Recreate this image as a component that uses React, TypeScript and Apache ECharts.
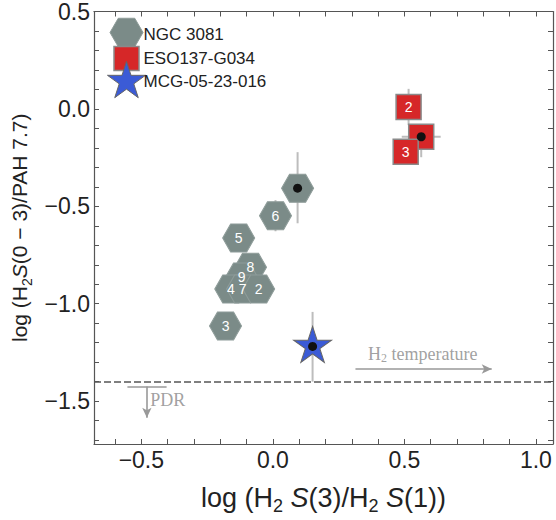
import React, { useEffect, useRef } from "react";
import * as echarts from "echarts";

// ---------- data ----------
const ngcX = [0.094, 0.01, -0.13, -0.085, -0.119, -0.16, -0.115, -0.054, -0.18];
const ngcY = [-0.407, -0.548, -0.663, -0.813, -0.863, -0.924, -0.924, -0.924, -1.114];
const ngcLabels = ["", "6", "5", "8", "9", "4", "7", "2", "3"];

const esoX = [0.564, 0.516, 0.505];
const esoY = [-0.143, 0.01, -0.22];
const esoLabels = ["", "2", "3"];

const mcgX = [0.151];
const mcgY = [-1.219];

// error bars: [x, y, xLo, xHi, yLo, yHi]
const errorBars = [
  [0.094, -0.407, 0, 0, 0.18, 0.185],
  [0.01, -0.548, 0, 0, 0.08, 0.08],
  [0.564, -0.143, 0.074, 0.074, 0.105, 0],
  [0.516, 0.01, 0, 0, 0.093, 0.093],
  [0.151, -1.219, 0, 0, 0.181, 0.177],
];

const xMajor = [-0.5, 0, 0.5, 1.0];
const xMinor = [-0.6, -0.5, -0.4, -0.3, -0.2, -0.1, 0, 0.1, 0.2, 0.3, 0.4, 0.5, 0.6, 0.7, 0.8, 0.9, 1.0];
const yMajor = [0.5, 0, -0.5, -1.0, -1.5];
const yMinor = [0.5, 0.4, 0.3, 0.2, 0.1, 0, -0.1, -0.2, -0.3, -0.4, -0.5, -0.6, -0.7, -0.8, -0.9, -1.0, -1.1, -1.2, -1.3, -1.4, -1.5, -1.6, -1.7];

const X_MIN = -0.68;
const X_MAX = 1.065;
const Y_MIN = -1.72;
const Y_MAX = 0.5;

const pdrLevel = -1.4;

// ---------- styling ----------
const HEX = "path://M0 433 L250 0 L750 0 L1000 433 L750 866 L250 866 Z";
const STAR =
  "path://M100 0 L122.5 69.1 L195.1 69.1 L136.3 111.8 L158.8 180.9 L100 138.2 L41.2 180.9 L63.7 111.8 L4.9 69.1 L77.5 69.1 Z";
const HEX_COLOR = "#7b8b88";
const SQ_COLOR = "#d62728";
const STAR_COLOR = "#3b5bd6";
const AX = "#555";
const SANS = "Liberation Sans, Arial, sans-serif";
const SERIF = "Liberation Serif, Times New Roman, serif";

const fmt = (v: number) => (v < 0 ? "\u2212" : "") + Math.abs(v).toFixed(1);

function starPoints(cx: number, cy: number, R: number) {
  const r = R * 0.382;
  const pts: number[][] = [];
  for (let i = 0; i < 10; i++) {
    const a = (-90 + i * 36) * (Math.PI / 180);
    const rr = i % 2 === 0 ? R : r;
    pts.push([cx + rr * Math.cos(a), cy + rr * Math.sin(a)]);
  }
  return pts;
}

function hexPoints(cx: number, cy: number, w: number, h: number) {
  return [
    [cx - w / 2, cy],
    [cx - w / 4, cy - h / 2],
    [cx + w / 4, cy - h / 2],
    [cx + w / 2, cy],
    [cx + w / 4, cy + h / 2],
    [cx - w / 4, cy + h / 2],
  ];
}

function makeRich(size: number, subSize: number, lh: number, pad: number) {
  return {
    n: { fontSize: size, fontFamily: SANS, color: "#222", lineHeight: lh },
    it: { fontSize: size, fontFamily: SANS, fontStyle: "italic", color: "#222", lineHeight: lh },
    sub: { fontSize: subSize, fontFamily: SANS, color: "#222", lineHeight: lh, verticalAlign: "bottom", padding: [pad, 0, 0, 0] },
  };
}

export default function App() {
  const ref = useRef<HTMLDivElement>(null);
  useEffect(() => {
    if (!ref.current) return;
    const chart = echarts.init(ref.current, undefined, { renderer: "svg" });

    const baseX = {
      type: "value",
      min: X_MIN,
      max: X_MAX,
      splitLine: { show: false },
      axisLine: { show: true, onZero: false, lineStyle: { color: AX, width: 1.2 } },
    };
    const baseY = {
      type: "value",
      min: Y_MIN,
      max: Y_MAX,
      splitLine: { show: false },
      axisLine: { show: true, onZero: false, lineStyle: { color: AX, width: 1.2 } },
    };

    const option: any = {
      animation: false,
      backgroundColor: "#fff",
      grid: { left: 94, right: 3, top: 9, bottom: 68, containLabel: false },
      xAxis: [
        {
          ...baseX,
          position: "bottom",
          axisTick: { show: true, inside: true, length: 5, customValues: xMinor, lineStyle: { color: AX } },
          axisLabel: {
            show: true,
            customValues: xMajor,
            formatter: (v: number) => fmt(v),
            fontSize: 23,
            fontFamily: SANS,
            color: "#222",
            margin: 4,
          },
          name: "{n|log (H}{sub|2}{n| }{it|S}{n|(3)/H}{sub|2}{n| }{it|S}{n|(1))}",
          nameLocation: "middle",
          nameGap: 37,
          nameTextStyle: { rich: makeRich(27, 18, 34, 12) },
        },
        {
          ...baseX,
          position: "top",
          axisTick: { show: true, inside: true, length: 5, customValues: xMinor, lineStyle: { color: AX } },
          axisLabel: { show: false },
        },
      ],
      yAxis: [
        {
          ...baseY,
          position: "left",
          axisTick: { show: true, inside: true, length: 5, customValues: yMinor, lineStyle: { color: AX } },
          axisLabel: {
            show: true,
            customValues: yMajor,
            formatter: (v: number) => fmt(v),
            fontSize: 23,
            fontFamily: SANS,
            color: "#222",
            margin: 4,
          },
          name: "{n|log (H}{sub|2}{it|S}{n|(0 \u2212 3)/PAH 7.7)}",
          nameLocation: "middle",
          nameGap: 54,
          nameTextStyle: { rich: makeRich(21, 14, 28, 9) },
        },
        {
          ...baseY,
          position: "right",
          axisTick: { show: true, inside: true, length: 5, customValues: yMinor, lineStyle: { color: AX } },
          axisLabel: { show: false },
        },
      ],
      series: [
        {
          type: "custom",
          name: "errors",
          z: 1,
          silent: true,
          data: errorBars,
          renderItem: (params: any, api: any) => {
            const x = api.value(0);
            const y = api.value(1);
            const children: any[] = [];
            const st = { stroke: "#bdbdbd", lineWidth: 2 };
            const xl = api.value(2), xh = api.value(3), yl = api.value(4), yh = api.value(5);
            if (xl > 0 || xh > 0) {
              const a = api.coord([x - xl, y]);
              const b = api.coord([x + xh, y]);
              children.push({ type: "line", shape: { x1: a[0], y1: a[1], x2: b[0], y2: b[1] }, style: st });
            }
            if (yl > 0 || yh > 0) {
              const a = api.coord([x, y - yl]);
              const b = api.coord([x, y + yh]);
              children.push({ type: "line", shape: { x1: a[0], y1: a[1], x2: b[0], y2: b[1] }, style: st });
            }
            return { type: "group", children };
          },
          markLine: {
            silent: true,
            symbol: "none",
            label: { show: false },
            lineStyle: { type: [7, 3], color: "#555", width: 1.5 },
            data: [{ yAxis: pdrLevel }],
          },
        },
        {
          type: "scatter",
          name: "NGC 3081",
          z: 3,
          symbol: HEX,
          symbolSize: [32, 28],
          itemStyle: { color: HEX_COLOR, borderColor: "#8e9c99", borderWidth: 1, opacity: 1 },
          label: {
            show: true,
            position: "inside",
            formatter: (p: any) => p.data[2],
            color: "#fff",
            fontSize: 14,
            fontFamily: SANS,
          },
          labelLayout: { hideOverlap: false },
          data: ngcX.map((x, i) => [x, ngcY[i], ngcLabels[i]]),
        },
        {
          type: "scatter",
          name: "ESO137-G034",
          z: 3,
          symbol: "rect",
          symbolSize: 25,
          itemStyle: { color: SQ_COLOR, borderColor: "#8a8a8a", borderWidth: 1.5, opacity: 1 },
          label: {
            show: true,
            position: "inside",
            formatter: (p: any) => p.data[2],
            color: "#fff",
            fontSize: 14,
            fontFamily: SANS,
          },
          data: esoX.map((x, i) => [x, esoY[i], esoLabels[i]]),
        },
        {
          type: "scatter",
          name: "MCG-05-23-016",
          z: 3,
          symbol: STAR,
          symbolSize: [38, 36],
          symbolOffset: [0, -2],
          itemStyle: { color: STAR_COLOR, borderColor: "#666", borderWidth: 1, opacity: 1 },
          data: mcgX.map((x, i) => [x, mcgY[i]]),
        },
        {
          type: "scatter",
          name: "dots",
          z: 4,
          symbol: "circle",
          symbolSize: 9,
          itemStyle: { color: "#111", opacity: 1 },
          data: [
            [ngcX[0], ngcY[0]],
            [esoX[0], esoY[0]],
            [mcgX[0], mcgY[0]],
          ],
        },
        {
          type: "scatter",
          name: "annotations",
          z: 2,
          silent: true,
          symbolSize: 0,
          data: [
            { value: [0.57, -1.259], label: { formatter: "{n|H}{s|2}{n| temperature}", position: "inside" } },
            { value: [-0.466, -1.493], label: { formatter: "{n|PDR}", position: "right", distance: 0 } },
          ],
          label: {
            show: true,
            rich: {
              n: { fontFamily: SERIF, fontSize: 18, color: "#888" },
              s: { fontFamily: SERIF, fontSize: 12, color: "#888", padding: [8, 0, 0, 0] },
            },
          },
          markLine: {
            silent: true,
            label: { show: false },
            lineStyle: { color: "#999", width: 1.6, type: "solid" },
            symbolSize: [7, 10],
            data: [
              [
                { coord: [0.314, -1.335], symbol: "none" },
                { coord: [0.832, -1.335], symbol: "arrow" },
              ],
              [
                { coord: [-0.553, -1.425], symbol: "none" },
                { coord: [-0.404, -1.425], symbol: "none" },
              ],
              [
                { coord: [-0.479, -1.425], symbol: "none" },
                { coord: [-0.479, -1.585], symbol: "arrow" },
              ],
            ],
          },
        },
      ],
      graphic: [
        {
          type: "polygon",
          shape: { points: hexPoints(126.5, 32.5, 33, 28.5) },
          style: { fill: HEX_COLOR, stroke: "#8e9c99", lineWidth: 1 },
        },
        {
          type: "rect",
          shape: { x: 114, y: 46.5, width: 25, height: 24 },
          style: { fill: SQ_COLOR, stroke: "#8a8a8a", lineWidth: 1.5 },
        },
        {
          type: "polygon",
          shape: { points: starPoints(126.5, 81.5, 20) },
          style: { fill: STAR_COLOR, stroke: "#666", lineWidth: 1 },
        },
        {
          type: "text",
          x: 143.5,
          y: 34,
          style: { text: "NGC 3081", font: `17px ${SANS}`, fill: "#222", verticalAlign: "middle" },
        },
        {
          type: "text",
          x: 143.5,
          y: 58,
          style: { text: "ESO137-G034", font: `17px ${SANS}`, fill: "#222", verticalAlign: "middle" },
        },
        {
          type: "text",
          x: 143.5,
          y: 81,
          style: { text: "MCG-05-23-016", font: `17px ${SANS}`, fill: "#222", verticalAlign: "middle" },
        },
      ],
    };
    chart.setOption(option);
    return () => chart.dispose();
  }, []);
  return <div ref={ref} style={{ width: 556, height: 520, position: "absolute", left: 0, top: 0 }} />;
}
